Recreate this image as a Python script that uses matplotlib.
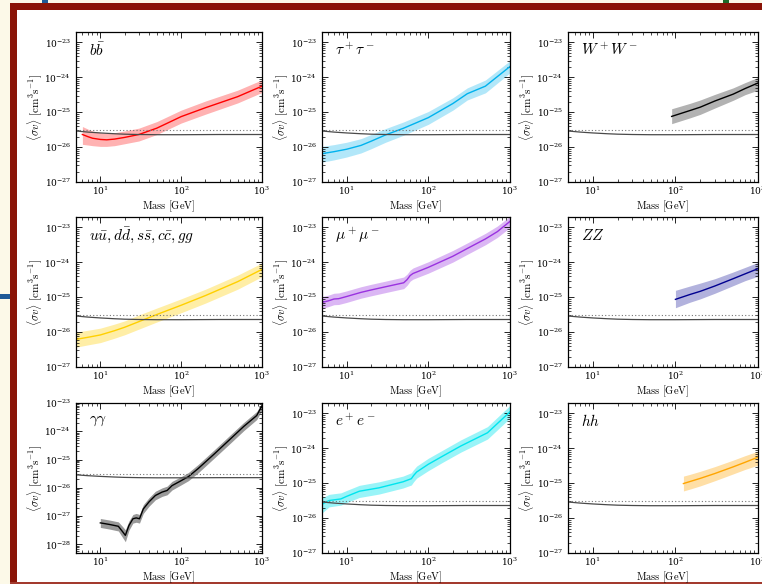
import matplotlib
matplotlib.use("Agg")
import matplotlib.pyplot as plt
from matplotlib.patches import Rectangle

plt.rcParams["mathtext.fontset"] = "cm"
plt.rcParams["font.family"] = "serif"
plt.rcParams["font.serif"] = ["DejaVu Serif"]

# thermal relic cross section
relic_mass = [5, 7, 10, 15, 20, 30, 50, 100, 300, 1000]
relic_sv = [2.9e-26, 2.7e-26, 2.55e-26, 2.42e-26, 2.35e-26, 2.3e-26, 2.27e-26, 2.27e-26, 2.3e-26, 2.3e-26]
canonical_sv = 3e-26

# b bbar
bb_mass = [6, 7, 8, 10, 12, 15, 20, 30, 50, 100, 200, 500, 1000]
bb_sv = [2.3e-26, 2.0e-26, 1.8e-26, 1.66e-26, 1.62e-26, 1.7e-26, 1.9e-26, 2.3e-26, 3.5e-26, 7.5e-26, 1.35e-25, 2.8e-25, 5.6e-25]
bb_hi = [3.9e-26, 3.3e-26, 2.9e-26, 2.6e-26, 2.5e-26, 2.6e-26, 2.9e-26, 3.5e-26, 5.4e-26, 1.15e-25, 2.1e-25, 4.3e-25, 8.5e-25]
bb_lo = [1.2e-26, 1.15e-26, 1.1e-26, 1.05e-26, 1.05e-26, 1.1e-26, 1.25e-26, 1.5e-26, 2.3e-26, 4.9e-26, 8.8e-26, 1.85e-25, 3.7e-25]

# tau tau
tt_mass = [5, 7, 10, 15, 20, 30, 50, 100, 200, 300, 500, 1000]
tt_sv = [6.5e-27, 7.4e-27, 8.7e-27, 1.12e-26, 1.48e-26, 2.24e-26, 3.5e-26, 7e-26, 1.78e-25, 3.4e-25, 5.6e-25, 2.05e-24]
tt_hi = [1.05e-26, 1.18e-26, 1.38e-26, 1.75e-26, 2.3e-26, 3.4e-26, 5.3e-26, 1.05e-25, 2.6e-25, 5.0e-25, 8.4e-25, 3.0e-24]
tt_lo = [3.7e-27, 4.3e-27, 5.2e-27, 6.8e-27, 9.0e-27, 1.38e-26, 2.2e-26, 4.5e-26, 1.15e-25, 2.25e-25, 3.6e-25, 1.35e-24]

# W W
ww_mass = [90, 150, 200, 300, 500, 700, 1000]
ww_sv = [7.6e-26, 1.12e-25, 1.4e-25, 2.1e-25, 3.3e-25, 4.8e-25, 6.9e-25]
ww_hi = [1.26e-25, 1.8e-25, 2.25e-25, 3.25e-25, 5e-25, 7.1e-25, 1e-24]
ww_lo = [4.7e-26, 6.9e-26, 8.7e-26, 1.32e-25, 2.2e-25, 3.2e-25, 4.3e-25]

# light quarks and gluons
qq_mass = [5, 7, 10, 15, 20, 30, 50, 100, 200, 500, 1000]
qq_sv = [6.2e-27, 7.1e-27, 8.3e-27, 1.1e-26, 1.38e-26, 2e-26, 3.2e-26, 5.9e-26, 1.12e-25, 2.8e-25, 6.3e-25]
qq_hi = [1.0e-26, 1.13e-26, 1.3e-26, 1.7e-26, 2.1e-26, 3.1e-26, 4.9e-26, 9e-26, 1.7e-25, 4.3e-25, 9.6e-25]
qq_lo = [3.7e-27, 4.3e-27, 5.0e-27, 6.7e-27, 8.4e-27, 1.22e-26, 1.95e-26, 3.6e-26, 6.8e-26, 1.7e-25, 3.9e-25]

# mu mu
mm_mass = [5, 6, 7, 8, 10, 15, 20, 30, 50, 55, 60, 65, 100, 200, 300, 500, 700, 1000]
mm_sv = [7.1e-26, 7.9e-26, 8.9e-26, 9.1e-26, 1.05e-25, 1.38e-25, 1.62e-25, 2.0e-25, 2.6e-25, 3.2e-25, 4.2e-25, 4.8e-25, 7.2e-25, 1.5e-24, 2.5e-24, 4.7e-24, 7.6e-24, 1.5e-23]
mm_hi = [1.05e-25, 1.15e-25, 1.3e-25, 1.33e-25, 1.52e-25, 2.0e-25, 2.35e-25, 2.9e-25, 3.8e-25, 4.6e-25, 6.0e-25, 6.9e-25, 1.04e-24, 2.2e-24, 3.6e-24, 6.8e-24, 1.1e-23, 2.1e-23]
mm_lo = [4.8e-26, 5.4e-26, 6.1e-26, 6.2e-26, 7.1e-26, 9.4e-26, 1.1e-25, 1.36e-25, 1.77e-25, 2.2e-25, 2.9e-25, 3.3e-25, 4.9e-25, 1.02e-24, 1.7e-24, 3.2e-24, 5.2e-24, 1.0e-23]

# Z Z
zz_mass = [100, 150, 200, 300, 500, 700, 1000]
zz_sv = [8.7e-26, 1.2e-25, 1.48e-25, 2.1e-25, 3.4e-25, 4.7e-25, 6.6e-25]
zz_hi = [1.58e-25, 2.1e-25, 2.55e-25, 3.4e-25, 5.3e-25, 7.2e-25, 1.0e-24]
zz_lo = [5e-26, 7.2e-26, 9e-26, 1.3e-25, 2.15e-25, 3.0e-25, 4.0e-25]

# gamma gamma
ga_mass = [10, 13, 16.7, 19, 20.4, 22.6, 25.3, 27.8, 30.5, 34, 40, 48, 58, 67, 77, 100, 123, 162, 258, 410, 594, 860, 1000]
ga_sv = [5.8e-28, 5.1e-28, 4.4e-28, 2.75e-28, 2.1e-28, 4.7e-28, 8.1e-28, 8.7e-28, 8.1e-28, 1.8e-27, 3.2e-27, 5.4e-27, 7.1e-27, 8.1e-27, 1.2e-26, 1.8e-26, 2.5e-26, 4.8e-26, 1.6e-25, 5.5e-25, 1.48e-24, 3.6e-24, 8e-24]
ga_hi = [8.3e-28, 7.3e-28, 6.3e-28, 4.2e-28, 3.3e-28, 6.8e-28, 1.15e-27, 1.25e-27, 1.15e-27, 2.55e-27, 4.5e-27, 7.6e-27, 1.0e-26, 1.15e-26, 1.7e-26, 2.5e-26, 3.5e-26, 6.7e-26, 2.25e-25, 7.7e-25, 2.05e-24, 5.0e-24, 1.0e-23]
ga_lo = [4.0e-28, 3.5e-28, 3.0e-28, 1.7e-28, 1.25e-28, 3.2e-28, 5.7e-28, 6.1e-28, 5.7e-28, 1.25e-27, 2.25e-27, 3.8e-27, 5.0e-27, 5.7e-27, 8.4e-27, 1.28e-26, 1.8e-26, 3.4e-26, 1.15e-25, 3.9e-25, 1.05e-24, 2.6e-24, 5.6e-24]

# e e
ee_mass = [5, 6.1, 7.4, 8.5, 10, 14.3, 25, 49, 62, 66, 72, 100, 150, 250, 530, 1000]
ee_sv = [2.5e-26, 3.2e-26, 3.4e-26, 3.55e-26, 4.2e-26, 5.9e-26, 7.4e-26, 1.1e-25, 1.35e-25, 1.66e-25, 2.1e-25, 3.5e-25, 6.0e-25, 1.17e-24, 2.8e-24, 1.12e-23]
ee_hi = [3.8e-26, 4.8e-26, 5.1e-26, 5.3e-26, 6.2e-26, 8.7e-26, 1.1e-25, 1.6e-25, 2.0e-25, 2.45e-25, 3.1e-25, 5.2e-25, 8.9e-25, 1.75e-24, 4.2e-24, 1.7e-23]
ee_lo = [1.4e-26, 2.1e-26, 2.25e-26, 2.35e-26, 2.8e-26, 3.9e-26, 4.9e-26, 7.3e-26, 8.9e-26, 1.1e-25, 1.4e-25, 2.3e-25, 4.0e-25, 7.8e-25, 1.85e-24, 7.4e-24]

# h h
hh_mass = [125, 150, 200, 300, 500, 700, 1000]
hh_sv = [9.8e-26, 1.12e-25, 1.38e-25, 1.9e-25, 2.95e-25, 4e-25, 5.6e-25]
hh_hi = [1.6e-25, 1.8e-25, 2.2e-25, 3.0e-25, 4.6e-25, 6.2e-25, 8.3e-25]
hh_lo = [6.0e-26, 6.8e-26, 8.4e-26, 1.18e-25, 1.85e-25, 2.5e-25, 3.3e-25]

channels = [
    (r"$b\bar{b}$", bb_mass, bb_sv, bb_lo, bb_hi, "#ff0000", 0.3),
    (r"$\tau^+\tau^-$", tt_mass, tt_sv, tt_lo, tt_hi, "#00b2ee", 0.3),
    (r"$W^+W^-$", ww_mass, ww_sv, ww_lo, ww_hi, "#000000", 0.3),
    (r"$u\bar{u}, d\bar{d}, s\bar{s}, c\bar{c}, gg$", qq_mass, qq_sv, qq_lo, qq_hi, "#ffd000", 0.35),
    (r"$\mu^+\mu^-$", mm_mass, mm_sv, mm_lo, mm_hi, "#9a32e0", 0.35),
    (r"$ZZ$", zz_mass, zz_sv, zz_lo, zz_hi, "#000090", 0.3),
    (r"$\gamma\gamma$", ga_mass, ga_sv, ga_lo, ga_hi, "#000000", 0.4),
    (r"$e^+e^-$", ee_mass, ee_sv, ee_lo, ee_hi, "#00e5ee", 0.4),
    (r"$hh$", hh_mass, hh_sv, hh_lo, hh_hi, "#ffa500", 0.35),
]

W, H = 762, 584
fig = plt.figure(figsize=(W / 100, H / 100), dpi=100, facecolor="#fcf9e8")


def px_rect(x, y, w, h, color):
    fig.add_artist(Rectangle((x / W, 1 - (y + h) / H), w / W, h / H,
                             facecolor=color, edgecolor="none", zorder=0))


# slide frame
px_rect(17, 10, 745, 572, "white")
px_rect(10, 3, 752, 7, "#8a1407")
px_rect(10, 3, 7, 581, "#8a1407")
px_rect(10, 582, 752, 2, "#a33a2e")
px_rect(42, 0, 6, 3, "#1f5a96")
px_rect(0, 294, 10, 5, "#1f5a96")
px_rect(723, 0, 6, 3, "#1e6b2a")

col_left = [76, 322, 568]
col_width = [186, 188, 190]
row_top = [32, 217, 403]
ph = 150

for i, (label, mass, sv, lo, hi, color, alpha) in enumerate(channels):
    r, c = divmod(i, 3)
    ax = fig.add_axes([col_left[c] / W, 1 - (row_top[r] + ph) / H,
                       col_width[c] / W, ph / H])
    ax.set_xscale("log")
    ax.set_yscale("log")
    ax.fill_between(mass, lo, hi, color=color, alpha=alpha, lw=0)
    ax.plot(mass, sv, color=color, lw=1.0)
    ax.plot(relic_mass, relic_sv, color="#4a4a4a", lw=0.9)
    ax.axhline(canonical_sv, color="#777777", lw=0.8, ls=(0, (1, 2)))
    ax.set_xlim(5, 1000)
    if label == r"$\gamma\gamma$":
        ax.set_ylim(5e-29, 1e-23)
    else:
        ax.set_ylim(1e-27, 2e-23)
    ax.text(0.07, 0.88, label, transform=ax.transAxes, fontsize=11,
            va="center", ha="left")
    ax.tick_params(which="both", direction="in", top=True, right=True,
                   labelsize=6.5)
    ax.tick_params(which="major", length=4, width=0.6)
    ax.tick_params(which="minor", length=2, width=0.5)
    ax.tick_params(axis="x", pad=2)
    for s in ax.spines.values():
        s.set_linewidth(0.9)
    ax.set_ylabel(r"$\langle\sigma v\rangle\ [\mathrm{cm}^3\mathrm{s}^{-1}]$",
                  fontsize=8)
    ax.yaxis.set_label_coords(-0.17, 0.5)
    ax.set_xlabel(r"$\mathrm{Mass\ [GeV]}$", fontsize=7.5, labelpad=1)

fig.savefig("out.png", dpi=100, facecolor=fig.get_facecolor())
